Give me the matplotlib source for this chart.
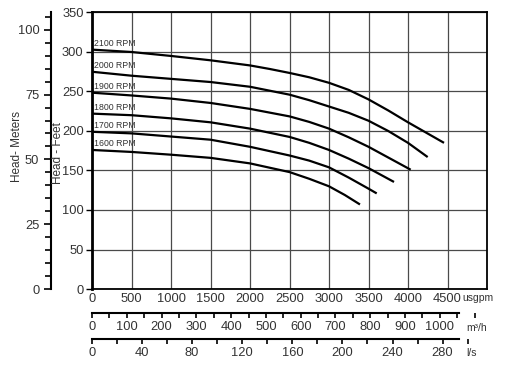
import numpy as np
import matplotlib.pyplot as plt
from matplotlib.ticker import MultipleLocator

plt.rcParams['font.family'] = ['Liberation Sans', 'DejaVu Sans']

# === data (flow usgpm, head ft) ===
rpm_labels = ['2100 RPM', '2000 RPM', '1900 RPM', '1800 RPM', '1700 RPM', '1600 RPM']

flow_2100 = [0, 500, 1000, 1500, 2000, 2250, 2500, 2750, 3000, 3250, 3500, 3750, 4000, 4456]
head_2100 = [303, 300, 295, 289.5, 283, 278.5, 273.5, 268, 261, 252, 240, 226, 211, 185]

flow_2000 = [0, 500, 1000, 1500, 2000, 2500, 2750, 3000, 3250, 3500, 3750, 4000, 4249]
head_2000 = [275, 270, 266, 262, 256, 246, 239, 231, 223, 213, 200, 185, 167]

flow_1900 = [0, 500, 1000, 1500, 2000, 2500, 2750, 3000, 3250, 3500, 4034]
head_1900 = [248.5, 245, 241, 235.5, 228, 218.5, 211.5, 203, 192, 180, 151]

flow_1800 = [0, 500, 1000, 1500, 2000, 2500, 2750, 3000, 3250, 3500, 3823]
head_1800 = [222, 220, 216, 211, 203, 192.5, 185, 176, 165, 153, 135.5]

flow_1700 = [0, 500, 1000, 1500, 2000, 2500, 2750, 3000, 3250, 3500, 3604]
head_1700 = [199, 197, 193, 189, 180, 169, 162.5, 154, 141, 127, 121]

flow_1600 = [0, 500, 1000, 1500, 2000, 2500, 2750, 3000, 3200, 3392]
head_1600 = [176, 173.5, 170, 166, 159, 148, 139.5, 130, 119, 107]

curves = [(flow_2100, head_2100), (flow_2000, head_2000), (flow_1900, head_1900),
          (flow_1800, head_1800), (flow_1700, head_1700), (flow_1600, head_1600)]

gpm_ticks = list(range(0, 5000, 500))
feet_ticks = list(range(0, 351, 50))
meter_ticks = [0, 25, 50, 75, 100]
m3h_ticks = list(range(0, 1001, 100))
ls_ticks = list(range(0, 281, 40))

W, H = 513, 365
txt = '#333333'
fs = 9.3
fig = plt.figure(figsize=(W / 100, H / 100), dpi=100)

x0, x1 = 92, 487
y_top, y_bot = 12.5, 289
ax = fig.add_axes([x0 / W, (H - y_bot) / H, (x1 - x0) / W, (y_bot - y_top) / H])

for fl, hd in curves:
    ax.plot(fl, hd, color='black', lw=1.6, solid_capstyle='butt', solid_joinstyle='round')
for lab, (fl, hd) in zip(rpm_labels, curves):
    ax.text(30, hd[0] + 2.5, lab, fontsize=6.3, color=txt, va='bottom', ha='left')

ax.set_xlim(0, 5000)
ax.set_ylim(0, 350)
ax.set_xticks(gpm_ticks)
ax.set_yticks(feet_ticks)
ax.grid(True, color='#4a4a4a', lw=0.9)
ax.tick_params(axis='x', length=0, pad=3, labelsize=fs, labelcolor=txt)
ax.tick_params(axis='y', length=4, width=1, pad=2, labelsize=fs, labelcolor=txt)
for s in ['top', 'right', 'bottom']:
    ax.spines[s].set_linewidth(1.3)
ax.spines['left'].set_linewidth(2)
fig.text(462 / W, 1 - 298 / H, 'usgpm', fontsize=7.5, color=txt, ha='left', va='center')
fig.text(58 / W, 1 - 153 / H, 'Head - Feet', rotation=90, fontsize=8.5, color=txt,
         ha='center', va='center')

# === meters axis ===
axm = fig.add_axes([50.5 / W, (H - y_bot) / H, 0.0001, (y_bot - y_top) / H])
axm.set_ylim(0, 350 * 0.3048)
for s in ['top', 'right', 'bottom']:
    axm.spines[s].set_visible(False)
axm.spines['left'].set_linewidth(1.5)
axm.set_xticks([])
axm.set_yticks(meter_ticks)
axm.yaxis.set_minor_locator(MultipleLocator(5))
axm.tick_params(axis='y', which='major', length=5, width=1.2, labelsize=fs,
                labelcolor=txt, pad=3)
axm.tick_params(axis='y', which='minor', length=4, width=1.2)
axm.patch.set_visible(False)
fig.text(17 / W, 1 - 147 / H, 'Head- Meters', rotation=90, fontsize=8.5, color=txt,
         ha='center', va='center')

# === m3/h and l/s scales ===
def flow_scale(y_px, factor, bound, ticks, minor):
    a = fig.add_axes([x0 / W, (H - y_px) / H, (x1 - x0) / W, 0.0001])
    a.set_xlim(0, 5000 / factor)
    for s in ['top', 'right', 'left']:
        a.spines[s].set_visible(False)
    a.spines['bottom'].set_bounds(0, bound)
    a.spines['bottom'].set_linewidth(1.5)
    a.set_yticks([])
    a.set_xticks(ticks)
    a.xaxis.set_minor_locator(MultipleLocator(minor))
    a.tick_params(axis='x', which='both', length=3.5, width=1.2, labelsize=fs,
                  labelcolor=txt, pad=2)
    a.patch.set_visible(False)
    return a

ax_m3 = flow_scale(313, 4.40287, 1055, m3h_ticks, 50)
ax_ls = flow_scale(339, 15.8503, 293, ls_ticks, 20)
fig.text(466 / W, 1 - 328 / H, 'm³/h', fontsize=7.5, color=txt, ha='left', va='center')
fig.text(466 / W, 1 - 353 / H, 'l/s', fontsize=7.5, color=txt, ha='left', va='center')

fig.savefig('out.png', dpi=100)
